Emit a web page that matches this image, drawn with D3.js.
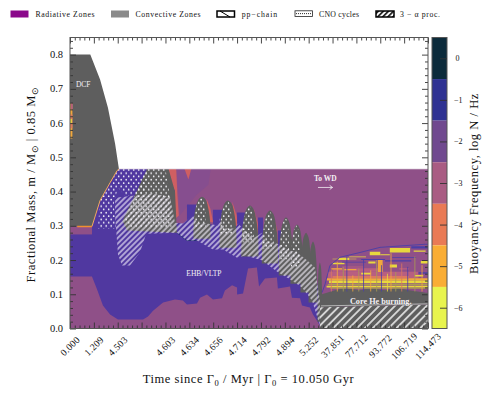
<!DOCTYPE html>
<html>
<head>
<meta charset="utf-8">
<script src="https://cdn.jsdelivr.net/npm/d3@7"></script>
<style>
html,body{margin:0;padding:0;background:#fff;}
svg{display:block;}
text{font-family:"Liberation Serif",serif;fill:#111;}
.axis path{display:none;}
.axis line{stroke:#333;stroke-width:.9;}
</style>
</head>
<body>
<svg id="chart" width="489" height="397"></svg>
<script>
// time axis is categorical, every tick is one step of the index
var timeLabels = ["0.000","1.209","4.503","","4.603","4.634","4.656","4.714","4.792","4.894","5.252","37.851","77.712","93.772","106.719","114.473"];
var massTicks = [0,0.1,0.2,0.3,0.4,0.5,0.6,0.7,0.8];
var barLevels = [0,-1,-2,-3,-4,-5,-6];
var barColors = ["#0c2b3b","#2e3192","#70498f","#a95c83","#e97a55","#f9ad35","#e8f44e"];

// zone outlines: [time index, mass]
var dcfZone = [[0,.8],[.85,.8],[1.26,.727],[1.59,.645],[1.89,.54],[2.05,.466],[1.97,.461],[1.68,.426],[1.26,.374],[.92,.298],[0,.298]];
var envelopeEdge = [[.92,.298],[1.26,.374],[1.68,.426],[1.97,.461],[2.05,.466]];
var coreTop = [[0,.152],[.92,.152],[1.12,.117],[1.38,.067],[1.68,.041],[2.01,.026],[3.06,.026],[3.27,.035],[3.48,.052],[3.9,.076],[4.4,.085],[4.73,.082],[4.9,.07],[5.32,.073],[5.45,.09],[5.74,.099],[5.99,.085],[6.37,.088],[6.49,.111],[6.79,.126],[7,.12],[7,.099],[7.25,.102],[7.46,.175],[7.83,.178],[7.92,.123],[8.17,.146],[8.67,.149],[8.71,.117],[9.22,.123],[9.3,.09],[9.64,.088],[9.72,.067],[10.05,.061],[10.18,.041],[10.39,.018],[10.52,0]];
var bandHigh = [[4.4,.309],[4.73,.307],[5.15,.33],[5.32,.309],[5.74,.307],[6.2,.301],[6.28,.321],[6.49,.292],[6.91,.292],[7.04,.307],[7.33,.286],[7.75,.266],[8.04,.28],[8.17,.257],[8.67,.248],[9.22,.228],[9.51,.222],[9.93,.199],[10.26,.178],[10.47,.082],[10.47,.009]];
var bandLow = [[3.23,.277],[4.48,.28],[4.9,.257],[5.32,.257],[5.99,.231],[6.41,.231],[7,.207],[7.33,.213],[8.04,.199],[8.71,.164],[9.3,.14],[9.72,.12],[10.14,.082],[10.47,.009]];
var hatchTop = [[1.89,.382],[2.64,.388],[3.44,.394],[4.19,.385]];
var hatchTail = [[3.18,.274],[2.93,.222],[2.51,.184],[2.18,.184],[2.01,.216],[1.89,.33]];
var convZone = [[3.23,.466],[4.13,.466],[4.4,.4],[4.48,.28],[2.39,.286],[2.2,.315],[2.81,.403]];
var convDots = [[3.23,.466],[4,.466],[4.2,.38],[4.25,.295],[2.45,.295],[2.25,.315],[2.81,.403]];
var blueDots = [[1.17,.292],[1.93,.292],[1.84,.365],[2.01,.412],[2.3,.388],[3.14,.394],[3.23,.466],[2.01,.466],[1.97,.461],[1.68,.426],[1.26,.374]];
var coralZones = [
  [[4.12,.466],[4.45,.466],[4.5,.39],[4.56,.33],[4.4,.32],[4.35,.4]],
  [[4.8,.466],[5.08,.466],[4.96,.435]],
  [[5.72,.38],[5.88,.35],[6,.31],[5.8,.31]],
  [[6.8,.37],[6.98,.33],[7.06,.29],[6.9,.29]],
  [[7.7,.35],[7.86,.31],[7.92,.27],[7.78,.27]],
  [[8.52,.33],[8.68,.29],[8.7,.25],[8.6,.25]]
];
var violetZone = [[4.45,.466],[5.9,.466],[5.8,.42],[5.3,.39],[4.95,.36],[4.6,.33],[4.55,.39]];

// pulses: peak time index, top and foot in mass, half width in index units
var pulsePeak = [5.53,6.62,7.54,8.38,9.05,9.51,9.89,10.18,10.47];
var pulseTop = [.385,.374,.359,.345,.324,.304,.28,.254,.193];
var pulseFoot = [.262,.236,.21,.19,.155,.131,.105,.076,.02];
var pulseHalf = [.36,.36,.36,.34,.3,.27,.23,.18,.1];
var pulseDotted = [1,1,1,1,1,1,0,0,0];
var pulseShape = [[-1,0],[-.96,.4],[-.78,.7],[-.42,.93],[0,1],[.42,.93],[.78,.68],[.96,.38],[1,0]];
var pulseDotShape = [[-.92,.28],[-.74,.7],[-.4,.92],[0,.98],[.24,.88],[.42,.62],[.46,.28]];
var blueBlobs = [[4.9,5.32,.26,.362],[5.99,6.41,.235,.347],[7,7.33,.22,.339],[7.88,8.09,.2,.324],[8.71,8.9,.17,.286],[9.3,9.42,.15,.24]];

// core He burning phase
var heGray = [[10.56,.062],[10.56,.1],[11.1,.112],[11.5,.118],[12.15,.112],[12.6,.118],[13.2,.112],[13.7,.118],[14.2,.112],[15,.104],[15,.07]];
var heHatch = [[10.47,0],[10.47,.062],[15,.07],[15,0]];
var heEdge = [[10.52,.066],[15,.072]];
var heFront = [[10.56,.105],[10.68,.128],[10.89,.184],[11.31,.208],[12.15,.222],[12.99,.237],[14.87,.246],[15,.246]];
// [from, to, low mass, high mass, log N]
var heStreaks = [
  [10.8,14.6,.146,.166,-3],[11,13,.166,.176,-3],[10.75,15,.14,.147,-5],[11,14.2,.147,.153,-4],
  [10.85,15,.132,.14,-6],[10.8,15,.126,.13,-7],[10.75,15,.12,.125,-6],[10.9,15,.116,.12,-7],
  [11.25,11.7,.2,.207,-6],[11,11.5,.188,.192,-6],[11.5,12,.17,.174,-5],[12.56,13,.214,.224,-6],[12.5,12.8,.19,.196,-6],
  [13.4,14.25,.222,.235,-6],[14.4,14.9,.224,.228,-6],[13.4,13.7,.178,.187,-6],[14.7,15,.19,.197,-6],[14.45,14.8,.152,.156,-6],
  [12.2,12.6,.158,.163,-6],[12.9,13.1,.165,.2,-5],[13.8,14.2,.172,.176,-3],[11.4,12.3,.178,.181,-3],
  [11,12,.202,.204,-6],[11.7,12.4,.208,.21,-6],[10.95,11.4,.172,.176,-5],[13,13.4,.214,.217,-6],
  [13.2,14.3,.196,.199,-1],[12.2,13.2,.2,.203,-1],[14.3,15,.234,.24,-1],[13.5,14.5,.206,.208,-1],[14.6,15,.16,.164,-1],[11.4,12.4,.193,.195,-1]
];
var spikeIndex = [10.95,11.2,11.45,11.6,11.85,12.1,12.3,12.6,12.85,13.05,13.3,13.45,13.65,13.9,14.15,14.45,14.75];
var spikeTop = [.17,.195,.18,.21,.155,.175,.2,.17,.2,.185,.16,.22,.165,.19,.18,.21,.185];
var spikeLevel = [-4,-5,-7,-1,-5,-7,-1,-5,-7,-1,-6,-5,-7,-4,-1,-7,-5];
var dcfStreaks = [[0,.1,.555,.657,-5],[.02,.1,.585,.625,-4],[0,.08,.6,.612,-6],[.03,.11,.64,.657,-3]];

var frame = {left:70,right:428,top:37.5,bottom:328.5};
var x = d3.scaleLinear().domain([0,15]).range([frame.left,frame.right]);
var y = d3.scaleLinear().domain([0,.85]).range([frame.bottom,frame.top]);
var barY = d3.scaleLinear().domain([-6.5,.5]).range([frame.bottom,frame.top]);
var streakColor = d3.scaleOrdinal([-7,-6,-5,-4,-3,-1],["#a99c52","#e8d83e","#f2a83c","#dc7860","#b85f80","#4a3fa8"]);
var line = d3.line().x(d=>x(d[0])).y(d=>y(d[1]));
var poly = pts=>line(pts)+"Z";

var svg = d3.select("#chart");
var defs = svg.append("defs");
defs.append("clipPath").attr("id","plot").append("rect")
  .attr("x",frame.left).attr("y",frame.top).attr("width",frame.right-frame.left).attr("height",frame.bottom-frame.top);

function hatch(id,step,width,col){
  var p = defs.append("pattern").attr("id",id).attr("patternUnits","userSpaceOnUse")
    .attr("width",step).attr("height",step).attr("patternTransform","rotate(45)");
  p.append("line").attr("x1",step/2).attr("x2",step/2).attr("y1",0).attr("y2",step)
    .attr("stroke",col).attr("stroke-width",width);
}
hatch("burnHatch",3.9,1.15,"#f4f0fa");
hatch("heHatchFill",5.6,1.5,"#f2f2f2");
hatch("legendTriple",3.6,1.6,"#111");
var dots = defs.append("pattern").attr("id","cnoDots").attr("patternUnits","userSpaceOnUse").attr("width",5).attr("height",6.6);
[[1.2,1.6],[3.7,4.9]].forEach(c=>dots.append("circle").attr("cx",c[0]).attr("cy",c[1]).attr("r",.85).attr("fill","#fbfbff"));

var g = svg.append("g").attr("clip-path","url(#plot)");
var bgPurple="#8f5088", bluePurple="#5038a0", grayConv="#5e5e5e";

// envelope
g.append("path").attr("d",poly([[0,0],[0,.466],[15,.466],[15,0]])).attr("fill",bgPurple);
g.append("path").attr("d",poly(violetZone)).attr("fill","#864e8f");
coralZones.forEach(z=>g.append("path").attr("d",poly(z)).attr("fill","#cf5f62"));

// radiative core
var blueOutline = [[0,.275],[.92,.275]].concat(envelopeEdge,[[4,.466],[4.4,.4]],bandHigh,[[10.52,0],[0,0]]);
g.append("path").attr("d",poly(blueOutline)).attr("fill",bluePurple);
blueBlobs.forEach(b=>g.append("path").attr("d",poly([[b[0],b[2]],[b[0],b[3]],[b[1],b[3]],[b[1],b[2]]])).attr("fill",bluePurple));
g.append("path").attr("d",poly(coreTop.concat([[0,0]]))).attr("fill",bgPurple);
g.append("path").attr("d",poly([[0,.275],[0,.289],[.92,.289],[.92,.275]])).attr("fill",bgPurple);
g.append("path").attr("d",line(bandLow.slice(1,4))).attr("fill","none").attr("stroke","#22306f").attr("stroke-width",.9);

// convective zones
g.append("path").attr("d",poly(dcfZone)).attr("fill",grayConv);
g.append("path").attr("d",poly(convZone)).attr("fill",grayConv);
var curve = d3.line().curve(d3.curveCatmullRom);
pulsePeak.forEach(function(p,i){
  var top=pulseTop[i], foot=pulseFoot[i], half=pulseHalf[i];
  var place = s=>[x(p+s[0]*half),y(foot+s[1]*(top-foot))];
  g.append("path").attr("d",curve(pulseShape.map(place))+"Z").attr("fill",grayConv);
  if(pulseDotted[i]) g.append("path").attr("d",curve(pulseDotShape.map(place))+"Z").attr("fill","url(#cnoDots)");
});

// burning regions
g.append("path").attr("d",poly(blueDots)).attr("fill","url(#cnoDots)");
g.append("path").attr("d",poly(convDots)).attr("fill","url(#cnoDots)");
var hatchOutline = hatchTop.concat(bandHigh,bandLow.slice().reverse(),hatchTail);
g.append("path").attr("d",poly(hatchOutline)).attr("fill","url(#burnHatch)");

// thin edge along the envelope and the DCF base
g.append("path").attr("d",line(envelopeEdge)).attr("fill","none").attr("stroke","#f0a860").attr("stroke-width",1);
g.append("path").attr("d",line([[.3,.298],[.92,.298]])).attr("fill","none").attr("stroke","#f09030").attr("stroke-width",1.4);
g.append("path").attr("d",line([[2.05,.466],[15,.466]])).attr("fill","none").attr("stroke","#ddd0dd").attr("stroke-width",.7);

// core He burning
g.append("path").attr("d",poly(heHatch)).attr("fill",grayConv);
g.append("path").attr("d",poly(heHatch)).attr("fill","url(#heHatchFill)");
g.append("path").attr("d",poly(heGray)).attr("fill",grayConv);
g.append("path").attr("d",line(heEdge)).attr("fill","none").attr("stroke","#ccc").attr("stroke-width",.8);
heStreaks.concat(dcfStreaks).forEach(s=>g.append("path")
  .attr("d",poly([[s[0],s[2]],[s[0],s[3]],[s[1],s[3]],[s[1],s[2]]])).attr("fill",streakColor(s[4])));
g.append("g").selectAll("line").data(spikeIndex).join("line")
  .attr("x1",d=>x(d)).attr("x2",d=>x(d)).attr("y1",y(.108)).attr("y2",(d,i)=>y(spikeTop[i]))
  .attr("stroke",(d,i)=>streakColor(spikeLevel[i])).attr("stroke-width",.8);
g.append("path").attr("d",line(heFront)).attr("fill","none").attr("stroke","#4a3fa8").attr("stroke-width",.9);

// axes
var major = d3.range(0,16), minor = d3.range(0,15.01,.2).filter(d=>Math.abs(d-Math.round(d))>.01);
var massMinor = d3.range(0,.8501,.02).filter(d=>Math.abs(d*10-Math.round(d*10))>.01);
function ticks(axis,vals,len,tr){ svg.append("g").attr("class","axis").attr("transform",tr).call(axis.tickValues(vals).tickSize(len).tickFormat("")); }
var bottom="translate(0,"+frame.bottom+")", top2="translate(0,"+frame.top+")", left="translate("+frame.left+",0)", right="translate("+frame.right+",0)";
ticks(d3.axisTop(x),major,6,bottom); ticks(d3.axisTop(x),minor,3,bottom);
ticks(d3.axisBottom(x),major,6,top2); ticks(d3.axisBottom(x),minor,3,top2);
ticks(d3.axisRight(y),massTicks,6,left); ticks(d3.axisRight(y),massMinor,3,left);
ticks(d3.axisLeft(y),massTicks,6,right); ticks(d3.axisLeft(y),massMinor,3,right);
svg.append("rect").attr("x",frame.left).attr("y",frame.top).attr("width",frame.right-frame.left).attr("height",frame.bottom-frame.top)
  .attr("fill","none").attr("stroke","#555").attr("stroke-width",1);

svg.append("g").selectAll("text").data(massTicks).join("text")
  .attr("x",63).attr("y",d=>y(d)+3.6).attr("text-anchor","end").attr("font-size",10.5).text(d=>d.toFixed(1));
svg.append("g").selectAll("text").data(timeLabels).join("text")
  .attr("transform",(d,i)=>"translate("+x(i)+",346) rotate(-45)").attr("text-anchor","middle").attr("dy",3.4)
  .attr("font-size",9.6).attr("letter-spacing",.25).text(d=>d);

// colour bar
var bar = svg.append("g");
barLevels.forEach(function(v,i){
  bar.append("rect").attr("x",432).attr("width",15).attr("y",barY(v+.5)).attr("height",barY(v-.5)-barY(v+.5)).attr("fill",barColors[i]);
});
bar.append("rect").attr("x",432).attr("y",frame.top).attr("width",15).attr("height",frame.bottom-frame.top)
  .attr("fill","none").attr("stroke","#555").attr("stroke-width",1);
svg.append("g").attr("class","axis").attr("transform","translate(447,0)")
  .call(d3.axisLeft(barY).tickValues(barLevels).tickSize(7).tickFormat(""));
svg.append("g").selectAll("text").data(barLevels).join("text")
  .attr("x",d=>d<0?454:455.5).attr("y",d=>barY(d)+3).attr("font-size",8)
  .text(d=>d<0?"\u2212"+(-d):d);

// axis titles
var xTitle = svg.append("text").attr("x",248.5).attr("y",383).attr("text-anchor","middle").attr("font-size",12.5).attr("letter-spacing",.55);
xTitle.append("tspan").text("Time since \u0393");
xTitle.append("tspan").attr("font-size",8.5).attr("dy",2.5).text("0");
xTitle.append("tspan").attr("dy",-2.5).text(" / Myr | \u0393");
xTitle.append("tspan").attr("font-size",8.5).attr("dy",2.5).text("0");
xTitle.append("tspan").attr("dy",-2.5).text(" = 10.050 Gyr");
var yTitle = svg.append("text").attr("transform","translate(35,184.5) rotate(-90)").attr("text-anchor","middle").attr("font-size",12.5).attr("letter-spacing",.55);
yTitle.append("tspan").text("Fractional Mass, m / M");
yTitle.append("tspan").attr("font-size",8.5).attr("dy",2.5).text("\u2299");
yTitle.append("tspan").attr("dy",-2.5).text(" | 0.85 M");
yTitle.append("tspan").attr("font-size",8.5).attr("dy",2.5).text("\u2299");
svg.append("text").attr("transform","translate(478,183.5) rotate(-90)").attr("text-anchor","middle").attr("font-size",12.5).attr("letter-spacing",.55)
  .text("Buoyancy Frequency, log N / Hz");

// annotations
function note(ix,m,txt,size,anchor){
  return svg.append("text").attr("x",x(ix)).attr("y",y(m)).attr("text-anchor",anchor||"start").attr("font-size",size).style("fill","#f4f0f4").text(txt);
}
note(.25,.704,"DCF",7.5);
note(5.61,.152,"EHB/VLTP",7.5,"middle");
note(10.7,.432,"To WD",7.5,"middle").attr("font-weight","bold");
note(11.73,.073,"Core He burning.",8.2).attr("font-weight","bold");
svg.append("path").attr("d",line([[10.39,.412],[11,.412]])).attr("stroke","#f4f0f4").attr("stroke-width",.8).attr("fill","none");
svg.append("path").attr("d",line([[10.88,.418],[11,.412],[10.88,.406]])).attr("stroke","#f4f0f4").attr("stroke-width",.8).attr("fill","none");

// legend
var legend = svg.append("g");
var lgNames = ["Radiative Zones","Convective Zones","pp\u2212chain","CNO cycles","3 \u2212 \u03b1 proc."];
var lgBox = [10.5,111,217,295,376];
var lgText = [35.5,135.5,241.7,319,400];
var lgWidth = [59,65,35.5,40,40];
legend.append("rect").attr("x",lgBox[0]).attr("y",10.5).attr("width",18).attr("height",7).attr("fill","#8b088b");
legend.append("rect").attr("x",lgBox[1]).attr("y",10.5).attr("width",18).attr("height",7).attr("fill","#8a8a8a");
legend.append("rect").attr("x",lgBox[2]).attr("y",11).attr("width",17.5).attr("height",6).attr("fill","#fff").attr("stroke","#000").attr("stroke-width",1.5);
legend.append("line").attr("x1",lgBox[2]+3).attr("y1",11).attr("x2",lgBox[2]+13).attr("y2",17).attr("stroke","#000").attr("stroke-width",1);
legend.append("rect").attr("x",lgBox[3]).attr("y",10.8).attr("width",17.5).attr("height",5.6).attr("fill","#fff").attr("stroke","#222").attr("stroke-width",.8);
d3.range(lgBox[3]+1.5,lgBox[3]+17,2).forEach(c=>legend.append("circle").attr("cx",c).attr("cy",13.6).attr("r",.55).attr("fill","#222"));
legend.append("rect").attr("x",lgBox[4]).attr("y",11).attr("width",18).attr("height",6).attr("fill","url(#legendTriple)").attr("stroke","#000").attr("stroke-width",1.5);
legend.selectAll("text").data(lgNames).join("text")
  .attr("x",(d,i)=>lgText[i]).attr("y",17).attr("font-size",7.8)
  .attr("textLength",(d,i)=>lgWidth[i]).attr("lengthAdjust","spacing").text(d=>d);
</script>
</body>
</html>
